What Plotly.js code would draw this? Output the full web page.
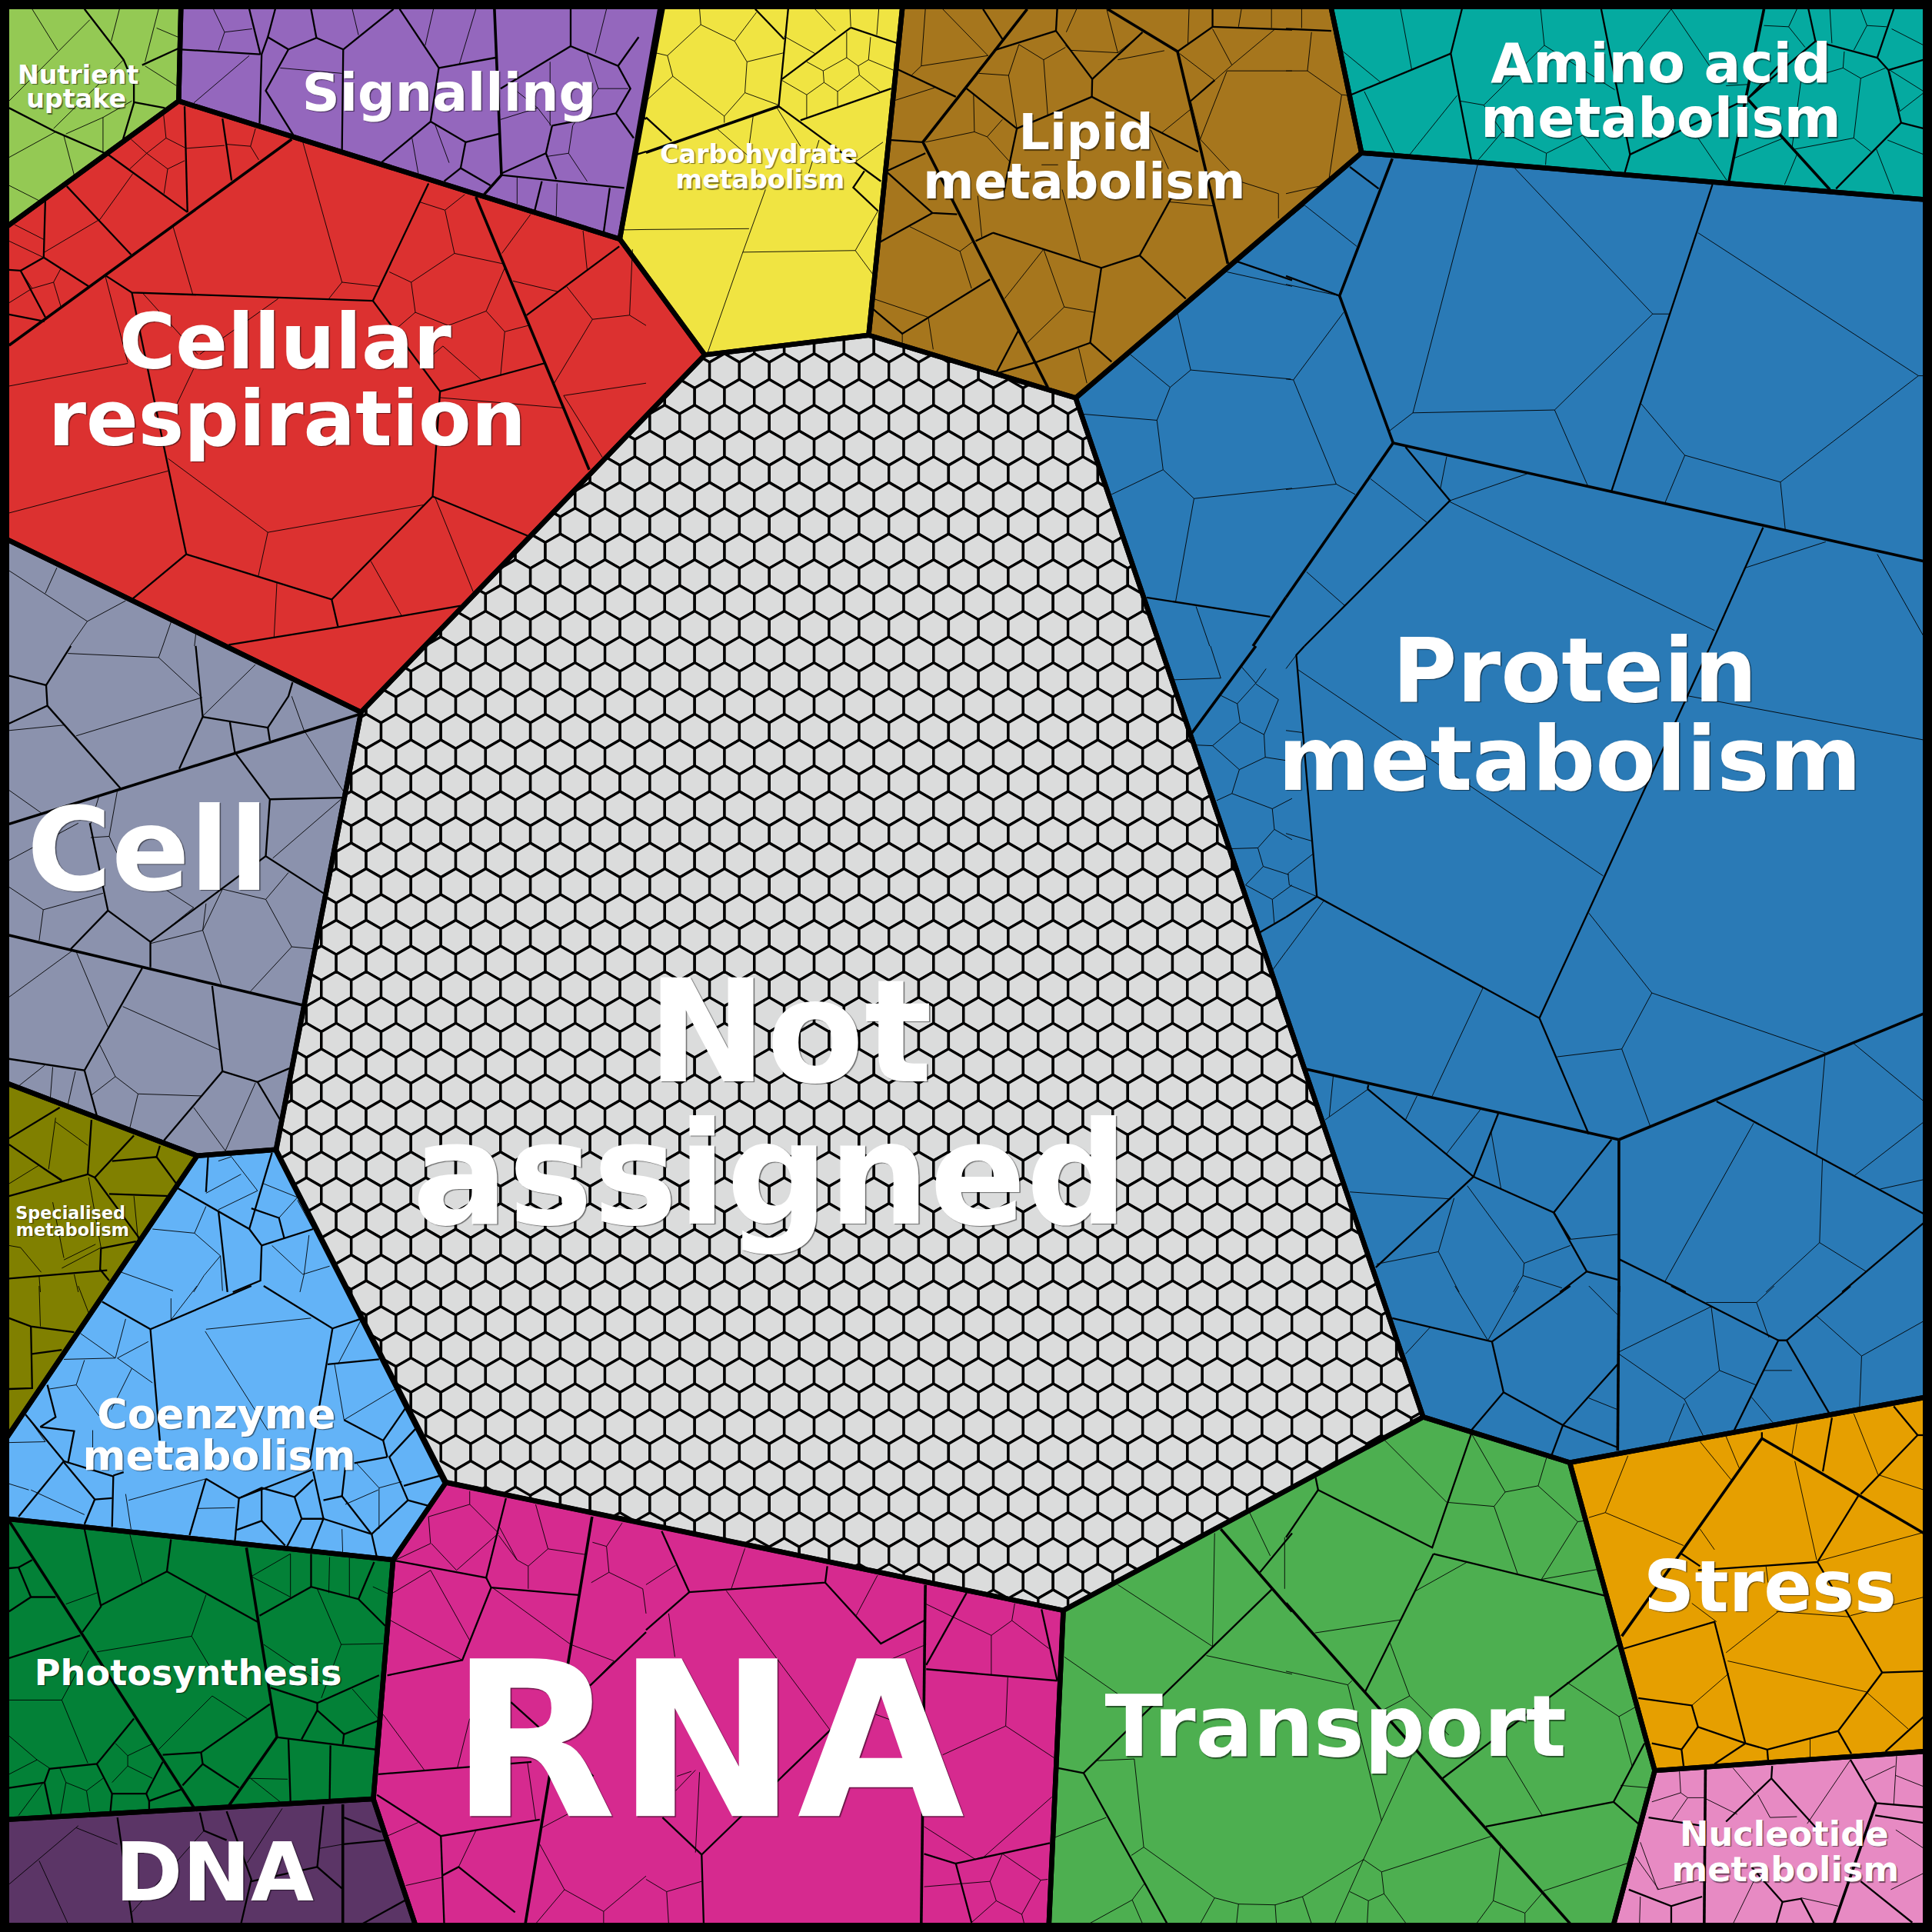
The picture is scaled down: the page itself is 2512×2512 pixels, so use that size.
<!DOCTYPE html>
<html><head><meta charset="utf-8"><script src="https://cdn.plot.ly/plotly-3.0.1.min.js"></script>
<style>html,body{margin:0;padding:0;background:#fff}#c{width:2512px;height:2512px}</style></head><body><div id="c"></div>
<script>
// categories: outline vertices, in 0..1568 picture units
const catNames=['Not assigned','Nutrient uptake','Signalling','Carbohydrate metabolism','Lipid metabolism','Amino acid metabolism','Protein metabolism','Cellular respiration','Cell','Specialised metabolism','Coenzyme metabolism','Photosynthesis','DNA','RNA','Transport','Stress','Nucleotide metabolism'];
const catColors=['#dbdcdc','#94c954','#9467bd','#f0e442','#a6761d','#05aaa0','#2a7ab6','#dc3130','#8b92ad','#808000','#63b3f7','#038137','#5b3566','#d62a8f','#4daf50','#e69f00','#e78ac3'];
const catOutlines=[
[572,288,705,272,873,323,1155,1150,863,1307,361,1203,224,934,293,578],
[0,0,147,0,145,82,0,188],
[147,0,539,0,503,194,145,82],
[537,0,733,0,705,272,572,288,503,194],
[733,0,1079,0,1105,124,873,323,705,272],
[1079,0,1568,0,1568,162.5,1105,124],
[1105,124,1568,162.5,1568,1133,1274,1187,1155,1150,873,323],
[0,188,145,82,503,194,572,288,293,578,0,435],
[0,435,293,578,224,933,160,938,0,877],
[0,877,160,938,0,1175],
[160,938,224,933,362,1203,319,1266,0,1232,0,1175],
[0,1232,319,1266,303,1460,0,1477],
[0,1477,303,1460,339,1568,0,1568],
[362,1203,863,1307,851,1568,339,1568,303,1460,319,1266],
[863,1307,1155,1150,1274,1187,1343,1437,1308,1568,851,1568],
[1274,1187,1568,1133,1568,1421,1343,1437],
[1343,1437,1568,1421,1568,1568,1308,1568]];

// honeycomb of "Not assigned": row and column positions
const hexRowY=[280.1,301,321.9,342.8,363.7,384.6,405.5,426.4,447.3,468.2,489.1,510,530.9,551.8,572.7,593.6,614.5,635.4,656.3,677.2,698.1,719,739.9,760.8,781.7,802.6,823.5,844.4,865.3,886.2,907.1,928,948.9,969.8,990.7,1011.6,1032.5,1053.4,1074.3,1095.2,1116.1,1137,1157.9,1178.8,1199.7,1220.6,1241.5,1262.4,1283.3,1304.2];
const hexRowFrom=[565,545,525,505,485,465,445,425,405,385,365,344,324,304,284,276,272,268,264,260,256,252,248,243,239,235,231,227,223,219,215,211,218,228,239,250,260,271,282,292,303,313,324,350,361,434,535,632,733,835];
const hexRowTo=[745,835,885,894,901,908,915,922,930,937,944,951,958,965,972,980,987,994,1001,1008,1015,1022,1029,1036,1044,1051,1058,1065,1072,1079,1086,1093,1100,1108,1115,1122,1129,1136,1143,1150,1158,1165,1170,1115,1076,1037,998,961,922,883];
const hexColsA=[212.3,236.6,260.8,285,309.3,333.5,357.7,382,406.2,430.4,454.7,478.9,503.1,527.4,551.6,575.9,600.1,624.3,648.6,672.9,697.1,721.4,745.6,769.8,794.1,818.3,842.5,866.8,891,915.2,939.5,963.7,987.9,1012.2,1036.4,1060.6,1084.9,1109.1,1133.3,1157.6];
const hexColsB=[200.2,224.5,248.7,272.9,297.2,321.4,345.6,369.9,394.1,418.3,442.6,466.8,491,515.3,539.5,563.8,588,612.2,636.5,660.8,685,709.3,733.5,757.7,782,806.2,830.4,854.7,878.9,903.1,927.4,951.6,975.8,1000.1,1024.3,1048.5,1072.8,1097,1121.2,1145.5,1169.7];

// inner cell walls, one set of lists per zoomed region of the picture
const strongTL=[[708,338,22,838],[1155,478,1430,1140],[1200,22,1217,425,1175,472]];
const strongTC=[[925,22,845,125,672,345,975,940],[1120,22,1290,125,1412,640],[0,370,322,258],[1553,1450,1473,1568]];
const strongTR=[[258,385,130,718,260,1075],[260,1075,1548,1362],[260,1075,0,1450],[1160,22,1075,440],[1120,240,1320,460]];
const strongML=[[22,432,875,165],[22,702,735,872]];
const strongMC=[[1480,0,1322,215]];
const strongMR=[[40,1025,808,1198],[808,1198,1548,892],[808,1200,808,1568]];
const strongBL=[[22,570,470,1265],[598,635,672,1095,555,1262],[1437,560,1275,1548],[832,1258,832,1548]];
const strongBC=[[678,725,668,1548],[1395,590,1568,790]];
const strongBR=[[808,0,805,400],[0,770,690,1548],[1155,370,815,850],[1155,370,1548,600],[1018,1172,1015,1548],[1432,1255,1330,1548]];
const midTL=[
[205,22,300,145,325,205,325,250,298,340],[345,158,432,118],[325,248,400,262],[22,262,135,320,255,372],
[668,22,650,90,635,132,630,300],[605,22,632,132],[440,120,632,132],[650,90,700,120,645,220,712,328],[700,120,768,92,833,120,830,365],[755,22,768,92],[833,120,955,22],
[970,22,1065,165,1045,295,925,395],[1065,165,1203,140],[1217,425,1515,456],[1385,22,1385,112,1500,160,1530,215,1495,275,1340,305],[1385,112,1215,215],[1500,160,1550,90],[1495,275,1538,335],
[1045,295,1130,345,1118,408,1190,450],[1130,345,1210,325],[1118,408,1078,440],[1325,372,1215,422],[1325,372,1350,435],[1325,372,1340,305],[1480,456,1465,565],[1315,440,1298,510],
[448,258,455,515],[540,288,562,438],[258,372,455,515],[162,452,318,618],[110,485,106,625,50,657,110,770],[106,625,215,695],[22,655,50,657],[22,763,108,780],
[1040,445,905,730,320,710,255,668],[320,710,452,1345],[905,730,1068,950,1320,882],[1068,950,1050,1205,805,1455],[452,1345,805,1455,820,1520],[452,1345,320,1455],[1050,1205,1280,1300],[1278,765,1503,598],[555,1565,820,1522,1118,1470],[1545,375,1568,368],[1555,275,1568,290]];
const fineTL=[
[78,22,140,122],[218,48,22,245],[290,22,270,100],[385,22,352,150],[380,68,432,90],[352,160,428,208],[300,145,130,312],[160,325,250,285,250,368],[22,382,135,320],[155,330,180,425],[22,450,95,487],[250,285,320,245],
[518,22,545,78,612,70],[545,78,530,122],[605,135,470,250],[1052,22,1032,110],[1155,22,1115,155],[855,22,870,85],[680,165,830,178],[1000,335,1015,420],[1055,300,1090,395],[1215,290,1305,262,1338,305],[1305,262,1240,210],[1335,150,1335,305],[1425,130,1452,215,1525,215],[1452,215,1390,305,1380,372,1325,380],[1380,372,1425,440],[1472,22,1445,130],[1255,430,1255,495],[1352,445,1350,525],
[318,338,356,372,403,335,397,278],[403,335,448,358],[356,372,315,410],[356,372,407,410,448,390],[407,410,398,470],[452,360,545,353],[548,350,608,355,620,312],[608,355,628,388],
[322,422,243,532,108,612],[35,545,108,582],[22,585,106,625],[50,657,78,700,130,685,148,745],[130,685,147,653],[78,700,22,735],
[735,345,830,685,920,695],[830,685,798,725],[420,550,468,715],[1018,490,1080,510,1128,472],[1080,510,1103,615,1220,640],[1103,615,998,685,945,660],[998,685,1008,758,1088,790,1180,755,1225,650],[1180,755,1225,805,1282,790],[1225,805,1215,910],[1008,758,965,795],[1075,840,1168,922],[1075,840,1040,870],
[1288,520,1218,615],[1415,560,1425,655],[1245,682,1355,708,1375,695,1438,775,1528,765],[1438,775,1345,930],[1528,765,1535,605],[1528,765,1568,790],[1368,960,1568,930],[1368,960,1462,1110],[1068,965,1365,990],
[22,937,310,882],[22,1245,408,1143],[408,1113,650,1292,627,1398],[650,1292,1030,1225],[1055,1205,1150,1440],[900,1362,975,1495],[672,1415,665,1548],[470,895,420,1000],[345,710,480,860],[675,725,485,860],[255,668,310,880],
[22,1385,212,1508,170,1568],[138,1378,110,1440],[305,1458,212,1508],[415,1510,395,1568],[475,1540,472,1568],[1510,558,1568,557]];
const midTC=[
[345,22,322,258],[322,258,570,440],[375,292,595,215],[497,67,610,105],[497,67,330,192],[265,22,335,95],[0,285,62,342],[530,415,503,455,563,512],
[595,340,672,345],[585,415,678,372],[585,418,695,517,755,520],[695,517,567,588],
[1290,125,1375,65,1375,22],[1375,65,1568,72],[865,95,818,22],[995,75,998,22],[995,75,1083,192,1082,235],[995,75,845,122],[1083,192,1205,78],
[778,215,900,312,865,480],[900,312,1082,235,1340,368],[608,167,752,235],[842,565,1105,650,1198,620,1310,725],[1198,620,1275,480],[842,565,800,585],[1105,650,1078,832,950,878,855,905],[1078,832,1130,878],[905,800,850,905],[835,678,685,770,622,810,545,745],[1322,245,1380,195],
[1215,1450,1515,1497],[1435,635,1568,680]];
const fineTC=[
[130,22,133,60,215,100,268,30],[133,60,52,135,65,185,190,282,190,298],[52,135,22,128],[65,185,0,245],[215,100,245,150,240,225,190,282],[245,150,335,128],[240,225,322,255],
[410,22,460,75],[495,22,497,65],[565,22,560,85],[335,88,410,130],[390,150,430,172,487,140,515,160,540,145,545,90],[487,78,487,140],[430,172,432,200,390,230,390,285],[330,195,390,230],[432,200,465,222,518,182,515,160],[465,222,465,258],[518,182,568,222],[540,145,600,170],
[172,312,250,380],[260,282,250,355],[318,262,375,355],[420,340,395,420],[505,395,575,345],[290,460,235,612,150,855],[0,557,250,555],[235,612,508,608,563,512],[508,608,550,665],
[678,22,668,160,645,182],[720,22,830,135,668,160],[600,245,700,213],[905,108,880,183,808,178],[905,108,965,145,1018,115],[965,145,975,280],[880,183,900,312],[1045,22,1020,78],[1118,22,1145,128,1030,122,1018,110],[1145,145,1258,123],[1145,128,1205,80],[1318,22,1315,110],[1445,22,1438,65],[1518,22,1518,68],
[1375,70,1422,158,1380,195,1295,130],[1422,158,1525,72],[1410,172,1568,172],[1410,172,1345,338,1322,245],[1345,338,1440,440,1535,470,1535,530],[795,230,797,320,678,345],[797,320,828,332,865,290],[828,332,885,395],[1252,322,1322,265],[1225,315,1268,410],[1000,400,960,400],
[805,475,815,575],[1010,460,1055,632],[1270,490,1380,500],[640,550,762,610,795,585],[762,610,790,700],[552,725,685,770,697,848],[622,810,622,832],[965,605,870,725],[965,605,1015,745,1088,758],[1015,745,925,832],[1050,845,1070,930],
[1290,760,1322,898,1565,920],[1175,860,1272,940,1322,898],[1272,940,1240,1020,1060,1005],[1240,1020,1255,1140,1130,1200],[1255,1140,1330,1210,1568,1185],[1330,1210,1285,1462],[1410,660,1568,695],[1335,1472,1368,1568]];
const midTR=[
[0,70,110,75],[427,22,400,130,450,390],[400,130,158,230],[765,22,835,375,822,420],[835,375,1120,240,1195,160],[1268,22,1285,100,1435,140,1475,22],[1285,100,1120,240],[1435,140,1462,170,1493,298,1335,458],[1462,170,1548,145],[1493,298,1548,312],
[1035,448,790,1192],[0,670,130,718],[290,1085,398,1215,45,1568],[1158,1280,1030,1568],[155,405,225,458]];
const fineTR=[
[62,78,52,172,135,230,105,430],[0,172,52,172],[135,230,158,232],[0,470,80,452],[38,22,38,68],
[278,22,305,168],[135,122,230,200],[190,222,265,375],[415,232,298,378],[618,22,627,110,798,218],[627,110,480,255,422,245],[480,255,525,320,465,390],[525,320,632,372,720,328,790,415],[632,372,630,400],[935,22,850,130],[935,22,1045,185],[1000,335,1070,438],[1068,208,1120,205],[1160,62,1220,65,1240,22],[1220,65,1260,115],[1320,22,1325,105],[1395,22,1410,62,1378,122],[1410,62,1458,65],[1470,70,1548,110],[1355,125,1352,165,1395,190,1455,165],[1352,165,1250,195,1228,360],[1395,190,1378,335,1420,368],[1378,335,1235,362],[1465,175,1490,270,1548,225],[1465,170,1548,222],[1085,385,1208,335],[1240,375,1210,448],[1433,362,1475,470],[1460,340,1548,375],
[465,400,308,1002,652,995,890,762,555,408],[890,762,930,762],[308,1002,252,1045],[652,995,732,1178],[1000,565,1535,912,1548,912],[1535,912,1200,1170,968,1105,862,980],[968,1105,920,1220],[1200,1170,1212,1288],[45,498,172,598],[45,498,0,535],[390,1108,375,1185],[398,1215,585,1150],[205,1162,342,1268],[398,1218,1040,1530],[50,1388,143,1470],[1115,1378,1310,1315],[1435,1345,1548,1545],[0,690,130,718],[140,758,18,922,122,1175,168,1200],[122,1175,0,1188],[0,920,18,922]];
const midML=[
[172,0,112,95,22,72],[112,95,115,145,22,188],[115,145,292,345],[475,0,492,172,435,298],[492,172,650,198,700,122,710,88],[650,198,655,230],[558,185,570,258],[570,258,655,372,645,510,785,600],[655,372,832,368],[645,510,365,718],[218,430,262,642,365,718,365,780],[262,642,172,735],[345,782,205,1030,22,1002],[205,1030,235,1140],[515,825,540,1032,398,1200],[540,1032,625,1058,702,1025],[625,1058,680,1150],
[222,1150,213,1282,22,1335],[325,1188,230,1290,340,1440],[213,1282,230,1290],[145,1120,22,1195],[22,1210,150,1298],[272,1250,380,1240,428,1305],[380,1240,388,1213],[265,1330,412,1335],[22,1535,260,1515],[245,1462,330,1445],[245,1462,243,1513,265,1540],
[430,1315,605,1415,635,1455,632,1540,565,1568],[660,1230,605,1415],[505,1240,500,1325],[610,1365,677,1388,690,1438],[635,1455,760,1415],[530,1370,552,1568]];
const fineML=[
[165,18,385,28,490,125,185,218],[385,28,395,0],[22,205,155,192],[620,45,492,170],[708,122,738,205,835,355],[22,350,100,405],[240,365,220,432],[285,350,265,462,220,465],[265,462,290,515],[22,520,190,430],[22,585,105,640,95,715],[105,640,250,600],[400,590,470,635,365,720],[540,590,645,615,700,550],[645,615,708,730,762,735],[708,730,608,838],[540,590,492,690,365,722],[492,690,538,825],[500,625,492,690],[830,370,662,515],
[175,740,22,852],[185,742,262,925],[298,875,532,980],[242,968,280,1045,222,1090],[280,1045,335,1087,490,1092],[335,1087,315,1170],[108,1018,45,1068],[128,1022,122,1098],[183,1032,165,1112],[470,1120,547,1225],[620,1060,547,1225],
[135,1145,118,1270],[135,1155,213,1212],[22,1305,95,1260,150,1295],[215,1290,245,1460,150,1510],[128,1350,155,1485],[325,1335,335,1440],[50,1460,100,1520],[22,1455,50,1460],[155,1490,232,1452],[180,1525,190,1568],[95,1530,98,1568],
[530,1250,560,1240],[558,1235,625,1322,530,1368],[500,1328,585,1282],[640,1305,722,1338,677,1388],[722,1345,760,1415],[500,1360,472,1425,370,1415],[472,1425,535,1480,495,1528,470,1568],[535,1480,540,1565],[295,1520,420,1565],[660,1455,735,1525,800,1505],[750,1430,738,1525,728,1568]];
const midMC=[[1553,658,1490,695]];
const fineMC=[[1370,0,1395,78,1280,82],[1445,50,1480,90,1505,55],[1480,90,1435,140,1395,120],[1435,140,1442,185,1375,242,1325,240],[1442,185,1500,215,1535,130,1480,92],[1500,215,1503,270,1440,300,1375,242],[1503,270,1568,280],[1440,300,1422,358,1520,395,1568,370],[1422,358,1385,375],[1520,395,1525,445,1485,490,1420,492],[1525,445,1568,470],[1485,490,1498,535,1455,580,1520,615,1525,675],[1498,535,1560,555],[1520,615,1568,580],[1553,742,1518,790]];
const midMR=[
[45,0,25,22,75,608,615,903,735,1185],[1030,0,615,903],[75,608,0,658],[515,1135,455,1288,650,1375,790,1198],[650,1375,730,1518,805,1538],[198,1075,455,1288,218,1508],[650,1375,690,1440],[200,1065,198,1075],[808,1488,970,1568],[1045,1105,1548,1378],[1548,1400,1350,1568],[730,1518,665,1568]];
const fineMR=[
[30,58,770,558],[970,120,1548,228],[92,618,478,830],[92,618,0,742],[478,830,355,1092],[735,648,888,842,815,978],[888,842,1310,988],[815,978,658,997],[815,978,885,1168],[115,1040,105,1142],[200,1075,95,1150],[318,1092,290,1150],[472,1125,390,1232],[498,1180,522,1318],[155,1325,400,1342],[408,1340,370,1470,220,1500],[370,1470,420,1568],[440,1310,578,1498,575,1528,670,1558],[578,1498,690,1455],[690,1440,805,1428],[575,1528,552,1568],[1135,1158,920,1542],[1308,995,1288,1235],[1378,965,1548,1105],[1302,1245,1295,1448,1165,1568],[1295,1448,1408,1518],[1380,1285,1548,1155],[1442,1318,1548,1295],[0,55,25,22],[0,205,40,210],[0,455,62,473],[65,505,5,552,8,580,75,608]];
const midBL=[
[248,38,365,105,388,375],[365,105,610,0],[640,0,807,103,750,440],[807,103,875,80],[115,240,135,318,98,342,180,352,165,430],[62,312,155,425,275,462,272,585],[275,460,300,452],[230,518,272,515],[230,518,205,578],[155,425,45,560],[155,428,230,518],[500,468,460,605],[500,468,580,515,760,445],[580,515,570,620],[580,515,635,490,715,512,732,565,695,635],[635,490,635,570,575,592],[635,570,692,630],[715,512,760,470],[732,565,785,565,755,640],[785,565,902,602,915,660],[902,602,990,520,945,415,1010,345],[860,430,940,415],[990,520,1045,535],[980,485,1070,460],[760,450,785,565],[785,520,830,510,900,600],[830,510,838,440],[795,190,920,178],[835,325,930,375,940,415],[930,375,985,295],
[205,590,245,778,200,840],[245,775,405,693,625,815],[415,615,405,693],[630,800,755,730,870,760,935,825],[755,650,755,730],[908,670,870,760],[670,1095,912,1125],[700,1100,705,1252],[802,1115,800,1248],[835,1085,832,1112],[657,975,770,1012,920,945],[770,1012,770,1030,835,1088,918,1055],[770,1030,732,1100],[655,1015,488,1132,395,1138],[488,1132,492,1160,443,1212],[492,1160,580,1218],[22,685,45,683,75,755,22,790],[45,683,78,665],[75,755,135,755],[22,903,195,848],[325,1050,235,1160,120,1172,108,1205,22,1218],[108,1205,125,1285],[235,1160,272,1232,355,1232,362,1250,440,1222],[355,1232,395,1155],[272,1232,268,1275],[362,1250,362,1270],
[285,1290,322,1548],[550,1275,610,1440,585,1548],[785,1262,770,1410,830,1462],[770,1410,610,1445],[832,1355,935,1345],[985,1490,880,1548],[835,1290,925,1325],[485,1278,495,1322,550,1345],
[950,665,1180,708,1228,515],[1180,708,1192,732,1122,908,940,945],[1192,732,1405,750],[918,1185,1290,1155],[915,1235,1070,1335,1310,1295],[1070,1335,1078,1548],[1075,1430,1113,1410,1250,1520],[1240,1010,1440,1190],[1432,970,1568,840],[22,78,75,98,180,112],[75,98,78,248,22,250],[78,165,150,155]];
const fineBL=[
[95,0,98,98],[190,0,215,65],[500,105,755,78],[498,110,650,350],[415,30,415,82,478,0],[285,175,370,235],[155,178,280,175,305,80],[285,175,360,135],[195,115,280,175],[185,240,120,250],[185,240,205,180],[185,240,240,315],[320,200,270,300],[225,350,225,400],[305,505,318,590],[312,520,500,468],[480,540,570,538],[75,495,205,555],[22,480,70,495],[22,380,110,378],[65,315,110,378],[812,190,835,325],[960,250,835,325],[875,85,820,190],[830,590,832,655],[865,430,920,490,920,590],[920,490,975,475],[838,530,918,495],
[315,602,345,722],[160,772,235,745],[500,750,465,850,235,888],[465,850,510,925],[215,885,150,1005,22,1005],[150,1005,213,1158],[22,1092,90,1150,120,1170],[90,1150,22,1185],[515,995,600,1050],[515,995,385,1125],[610,705,705,755],[705,650,705,755],[610,705,705,650],[800,658,798,745],[848,660,848,755],[905,730,945,748],[770,735,828,870,930,868],[828,870,780,1000],[640,870,780,965],[855,978,918,1050],[145,1170,160,1205,210,1225,250,1195],[210,1225,218,1275],[160,1205,147,1280],[280,1110,310,1140,368,1112],[310,1140,310,1165,370,1195],[310,1165,272,1205],[605,1195,698,1197],[608,1195,680,1252],[105,1205,45,1285],
[190,1310,22,1452],[185,1315,285,1355],[95,1395,165,1548],[495,1322,320,1520],[685,1268,600,1400],[775,1365,832,1355],
[960,665,1045,625,1040,560,1140,530,1210,600,1108,690,1047,625],[1140,498,1140,530],[1210,605,1255,665,1282,680],[1255,665,1212,585],[1282,680,1282,735],[1330,638,1422,652],[1330,638,1300,530],[1330,638,1282,680],[945,750,1045,690,1140,860],[945,810,1122,908],[1195,732,1385,870,1490,910,1432,970],[1435,720,1478,695,1472,632,1438,622],[1472,632,1510,575],[1478,695,1560,735,1568,795],[930,1040,1030,1175],[1110,1170,1140,1050],[1280,1155,1300,1295],[1315,1315,1400,1270],[1310,1355,1370,1465,1465,1518,1568,1432],[1370,1465,1300,1548],[1465,1518,1465,1548],[1155,1322,1113,1410],[985,1455,1075,1435],[940,1335,1015,1302]];
const midBC=[
[38,595,105,743,435,720,440,680],[105,743,0,835],[435,720,570,868,675,812],[680,930,998,958],[778,745,680,920],[960,785,998,958],[750,1402,980,1352],[675,1378,752,1402,790,1545],[447,1078,135,1380,140,1548],[135,1380,40,1290],
[1520,735,1062,1182,1265,1548],[1062,1182,1000,1170],[1490,695,1568,600]];
const fineBC=[
[240,637,207,735],[562,702,510,800],[0,725,72,678],[195,740,447,1078],[55,795,70,900],[680,870,585,910],[680,772,838,848,888,812,895,770],[888,812,978,880],[838,848,838,945],[878,950,873,1068,720,1138],[873,1068,990,1145],[985,1240,815,1390],[675,1312,800,1392],[120,1175,72,1225],[130,1180,120,1375],[110,1178,75,1190],[50,1470,135,1445],[0,1440,50,1470,55,1548],[675,1458,835,1445,865,1378,958,1442,912,1525,850,1492,835,1445],[958,1442,975,1440],[850,1492,790,1545],[912,1525,918,1548],[558,1040,640,1070],
[1380,600,1375,875,1145,725],[1360,897,1568,942],[1015,900,1145,990],[1095,1152,1185,1148,1208,1362,1178,1382],[1208,1362,1380,1485],[1117,1290,993,1338],[1210,1450,1180,1490,1205,1548],[1180,1490,1075,1548],[1380,1485,1345,1548],[1380,1485,1438,1500,1527,1502,1568,1490],[1438,1500,1433,1548],[1527,1502,1530,1548],[1465,550,1515,655],[1550,610,1550,735]];
const midBR=[
[258,78,500,135,528,258,450,350],[528,258,672,338,805,190],[672,338,645,410],[672,338,805,392],[500,135,690,0],[935,0,1195,132,1088,350],[1195,132,1215,132,1318,308],[1215,132,1370,0],
[1155,370,1155,355],[960,650,1005,680],[1325,320,1303,450],[1475,292,1533,362,1395,505],[1533,362,1548,362],[1390,508,1290,670,1447,938,1340,1080,1168,1125,1115,1110,1040,815,820,880],[1115,1110,1040,1160],[1115,1110,1000,1070,985,1018,855,1000],[1000,1070,960,1125,965,1165],[1290,670,1000,690],[1447,938,1548,935],[1340,1080,1372,1135],[1168,1125,1170,1150],[1548,1045,1455,1130],[960,1125,888,1110],
[450,358,355,635,78,495,72,465],[78,495,0,610],[358,650,775,752],[358,650,192,985],[808,870,380,1195],[795,1252,485,1312],[795,1252,870,1110],[795,1252,855,1305],
[1370,1150,1432,1255,1548,1265],[1430,1285,1548,1303],[1395,1445,1520,1545],[880,1290,1010,1310],[832,1465,935,1505,1010,1482],[935,1505,935,1548],[1180,1165,1178,1195,1068,1300],[1178,1195,1300,1330],[1205,1495,1250,1487,1282,1548],[1205,1495,1190,1548],[1205,1495,1130,1410]];
const fineBR=[
[410,0,490,132,565,0],[350,100,290,165],[735,0,805,70],[808,160,1032,50,1052,205,1140,240],[808,165,967,275,1052,205],[967,275,1012,362],[967,285,928,380],[1020,40,1142,40,1172,125],[1142,40,1185,0],[1160,205,1228,205],[1130,270,1182,332],[735,272,805,300],[1285,70,1397,170,1392,295],[1397,170,1548,85],
[1005,378,1080,470],[1068,365,1100,442],[1240,335,1228,410],[1235,425,1288,665],[830,412,775,550,735,562],[775,550,965,630],[1005,590,1040,640],[1290,668,1548,598],[1378,310,1437,458,1548,495],[1068,890,1195,790],[1165,680,1170,720],[1072,910,1408,985,1510,1075],[1075,940,985,1018],[1370,800,1548,755],[1190,790,1368,803],[1272,1098,1272,1145],[985,770,1045,815],
[240,375,390,525,505,535,532,500,612,485,708,572,620,712,755,688],[450,358,532,500],[632,418,612,485],[505,535,562,698],[708,572,725,570],[440,670,315,740],[280,810,70,842],[0,935,150,968,160,958],[150,968,232,1298],[252,865,300,995,395,1090],[300,995,215,1040],[682,962,808,1045,848,1022],[808,1045,840,1165],[535,1140,622,1285],[812,1212,880,1218],[305,1140,188,1392,232,1422,500,1335],[188,1392,40,1482,0,1495],[188,1392,118,1548],[232,1422,238,1475,200,1492,155,1470],[238,1475,292,1548],[200,1492,197,1548],[40,1482,62,1548],[520,1362,503,1492,580,1522,625,1470],[503,1492,462,1548],[580,1522,580,1548],[625,1468,832,1400],
[955,1178,958,1230,975,1242,1015,1242],[958,1230,888,1252],[975,1242,935,1300],[1085,1170,1140,1235],[1370,1150,1265,1305],[1145,1235,1175,1290,1240,1288],[1020,1245,1095,1282],[1482,1140,1475,1258],[1478,1165,1405,1200],[1480,1188,1548,1215],[1480,1320,1548,1365],[1468,1465,1548,1425],[860,1350,902,1465,1010,1440],[848,1385,905,1465],[1135,1445,1085,1548],[860,1482,858,1548],[1250,1485,1340,1505]];
const tileOffsets=[0,524.3,1043.7];
const tileScale=0.3344;

// labels, one entry per text line
const labelText=['RNA','Not','assigned','Protein','metabolism','Cellular','respiration','Cell','Transport','Stress','Signalling','Amino acid','metabolism','Lipid','metabolism','Carbohydrate','metabolism','Nutrient','uptake','Specialised','metabolism','Coenzyme','metabolism','Photosynthesis','DNA','Nucleotide','metabolism'];
const labelX=[574,641,625,1278,1274,231.5,233,120,1084,1436.6,364.5,1348,1348,881.4,880,615.9,617,63.5,61.9,57.2,58.9,175.6,177.9,152.7,174,1448,1449];
const labelY=[1430,848.6,964.1,551.1,623,283.2,345.6,698.5,1408,1293,79.1,56,100.1,111.2,151.2,126.9,147.9,62.8,82.5,985.6,999.6,1150.7,1184.2,1360.3,1525.7,1490.9,1520.1];
const labelSize=[281,185,185,115,115,100,100,150,110.7,92.5,68,71,71,63.5,63.5,33.3,33.3,33.3,33.3,22.3,22.3,53.8,53.8,46.2,106,44.8,44.8];

function unflat(list,mapX,mapY){const x=[],y=[];list.forEach(p=>{for(let i=0;i<p.length;i+=2){x.push(mapX(p[i]));y.push(mapY(p[i+1]));}x.push(null);y.push(null);});return{x,y};}
function tile(list,c,r){return unflat(list,v=>tileOffsets[c]+v*tileScale,v=>tileOffsets[r]+v*tileScale);}
function closed(p){return p.concat(p.slice(0,2));}
const traces=[];
function fillTrace(i){const d=unflat([closed(catOutlines[i])],v=>v,v=>v);traces.push({type:'scatter',mode:'lines',x:d.x.slice(0,-1),y:d.y.slice(0,-1),fill:'toself',fillcolor:catColors[i],line:{width:0},hoverinfo:'skip',name:catNames[i]});}
fillTrace(0);
const hx=[],hy=[];
hexRowY.forEach((y,i)=>{(i%2?hexColsB:hexColsA).forEach(x=>{if(x>=hexRowFrom[i]&&x<=hexRowTo[i]){hx.push(x);hy.push(y);}});});
traces.push({type:'scatter',mode:'markers',x:hx,y:hy,hoverinfo:'skip',marker:{symbol:'hexagon',size:44.8,color:'#dbdcdc',line:{color:'#000',width:3.4}}});
for(let i=1;i<catNames.length;i++)fillTrace(i);
function addLines(g,w){g.forEach(t=>{if(!t[0].length)return;const d=tile(t[0],t[1],t[2]);traces.push({type:'scatter',mode:'lines',x:d.x,y:d.y,line:{color:'#000',width:w},hoverinfo:'skip'});});}
addLines([[fineTL,0,0],[fineTC,1,0],[fineTR,2,0],[fineML,0,1],[fineMC,1,1],[fineMR,2,1],[fineBL,0,2],[fineBC,1,2],[fineBR,2,2]],0.9);
addLines([[midTL,0,0],[midTC,1,0],[midTR,2,0],[midML,0,1],[midMC,1,1],[midMR,2,1],[midBL,0,2],[midBC,1,2],[midBR,2,2]],2.3);
addLines([[strongTL,0,0],[strongTC,1,0],[strongTR,2,0],[strongML,0,1],[strongMC,1,1],[strongMR,2,1],[strongBL,0,2],[strongBC,1,2],[strongBR,2,2]],3.6);
const o=unflat(catOutlines.map(closed),v=>v,v=>v);
traces.push({type:'scatter',mode:'lines',x:o.x,y:o.y,line:{color:'#000',width:6.5},hoverinfo:'skip'});
traces.push({type:'scatter',mode:'lines',x:[0,1568,1568,0,0],y:[0,0,1568,1568,0],line:{color:'#000',width:24},hoverinfo:'skip'});
traces.push({type:'scatter',mode:'text',x:labelX,y:labelY,text:labelText,textposition:'middle center',hoverinfo:'skip',textfont:{family:'DejaVu Sans',weight:700,size:labelSize,color:'#fff',shadow:'1.5px 1.5px 1px rgba(0,0,0,0.5)'}});
Plotly.newPlot('c',traces,{width:2512,height:2512,margin:{l:0,r:0,t:0,b:0,pad:0},showlegend:false,paper_bgcolor:'#fff',plot_bgcolor:'#fff',xaxis:{range:[0,1568],visible:false,fixedrange:true},yaxis:{range:[1568,0],visible:false,fixedrange:true}},{staticPlot:true,displayModeBar:false});
</script></body></html>
